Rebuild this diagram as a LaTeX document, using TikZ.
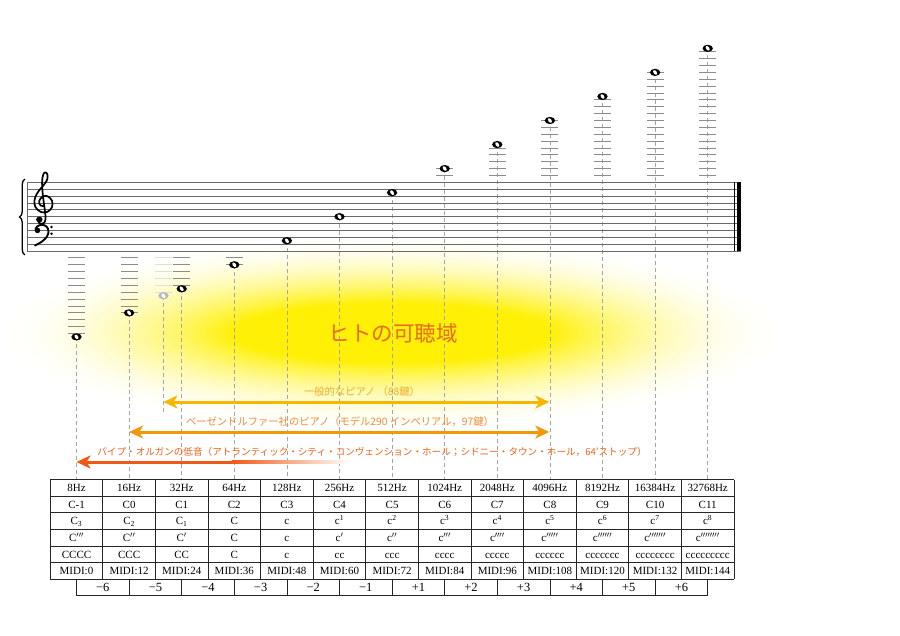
\documentclass[tikz,border=0pt]{standalone}
\usepackage{fontspec}
\setmainfont{Liberation Serif}
\newfontfamily\jpfont{Noto Sans CJK JP}
\usetikzlibrary{arrows.meta,decorations.pathreplacing}
\definecolor{glowY}{RGB}{255,240,0}
\definecolor{titleC}{RGB}{232,108,30}
\definecolor{goldA}{RGB}{247,183,0}
\definecolor{goldT}{RGB}{238,172,45}
\definecolor{orgA}{RGB}{243,150,8}
\definecolor{orgT}{RGB}{238,138,55}
\definecolor{redA}{RGB}{238,90,22}
\definecolor{redT}{RGB}{232,98,30}
\definecolor{staffC}{RGB}{105,105,105}
\definecolor{ledgC}{RGB}{140,140,140}
\definecolor{dashC}{RGB}{165,165,165}
\definecolor{ghostC}{RGB}{185,185,185}
\definecolor{ghostL}{RGB}{222,222,222}
\newcommand\prm{\prime}
\tikzset{
  staffline/.style={draw=staffC, line width=0.75pt},
  ledger/.style={draw=ledgC, line width=0.75pt},
  ghostledger/.style={draw=ghostL, line width=0.75pt},
  guide/.style={draw=dashC, line width=0.6pt, dash pattern=on 4pt off 3pt},
  gridline/.style={draw=black!85, line width=0.7pt},
  celltext/.style={font=\fontsize{11}{12}\selectfont, inner sep=0pt, text height=7.4pt, text depth=0pt, anchor=center},
  offtext/.style={font=\fontsize{12.5}{13}\selectfont, inner sep=0pt, text height=8.4pt, text depth=0pt, anchor=center},
  jplabel/.style={font=\jpfont\fontsize{10.3}{11}\selectfont, inner sep=0pt, anchor=center},
  rangearrow/.style={line width=3pt, arrows={{Stealth[length=14pt,width=13pt,inset=4pt]}-{Stealth[length=14pt,width=13pt,inset=4pt]}}},
  clefline/.style={line width=1.7pt, line cap=round, line join=round},
  wnote/.pic={\fill (0,0) ellipse [x radius=5.2pt, y radius=3.6pt];
              \fill[white, rotate=35] (0,0) ellipse [x radius=1.6pt, y radius=2.6pt];},
}
\begin{document}
\begin{tikzpicture}[x=1pt,y=-1pt]
\useasboundingbox[fill=white] (0,0) rectangle (900,636);
% ---- glow
\foreach \k in {0,...,50}{
  \pgfmathsetmacro\rx{385-225*\k/50}
  \pgfmathsetmacro\ry{95-65*\k/50}
  \pgfmathsetmacro\pc{1+97*(\k/50)^1.8}
  \fill[glowY!\pc!white] (392,333) ellipse [x radius=\rx pt, y radius=\ry pt];
}
% ---- guides
\foreach \i in {0,...,12}{
  \coordinate (n\i) at ({76.5+52.6*\i},{336.9-24.045*\i});
  \coordinate (t\i) at ({76.5+52.6*\i},479.5);
  \draw[guide] (n\i) -- (t\i);
}
\coordinate (g) at (163.5,295.7);
\coordinate (gb) at (163.5,412);
\draw[guide] (g) -- (gb);
% ---- staff
\foreach \k in {0,...,10} \draw[staffline] (27,{182.3+6.87*\k}) -- (741,{182.3+6.87*\k});
\draw[line width=0.9pt, staffC] (27,182.3) -- (27,251);
\draw[line width=0.8pt, black] (734.3,182.3) -- (734.3,251);
\fill[black] (737.2,182.3) rectangle (741,251);
% brace
\coordinate (bb) at (25,255);
\coordinate (bt) at (25,179);
\draw[decorate, decoration={brace, amplitude=5.5pt}, line width=1.3pt] (bb) -- (bt);
% treble clef
\begin{scope}[shift={(43,203.5)}, xscale=1.15, yscale=1.05]
\draw[clefline] plot[smooth, tension=0.6] coordinates {(-4.5,15.5) (-3,18.8) (0.5,18.8) (2.2,15) (1.8,8) (0.8,0) (-0.3,-10) (-0.8,-19) (-0.3,-25.5) (1.3,-29.5) (3.5,-28.5) (4,-24.5) (2.3,-20) (-1.8,-14.5) (-5.5,-9) (-7.5,-2.5) (-6.5,3.5) (-2,8) (3.8,8) (7.8,3.5) (7.8,-2.8) (3.8,-7) (-0.5,-6.5) (-3.4,-2) (-2,2) (1,2.2)};
\fill (-3.2,15.3) circle (2.8pt);
\end{scope}
% bass clef
\fill (37.5,230.4) circle (2.8pt);
\draw[line width=1.9pt, line cap=round] plot[smooth, tension=0.6] coordinates {(35.5,229.2) (37.5,226.2) (42,224.8) (46.5,226.5) (48.5,231) (47,236.5) (42,241.5) (35,245.5)};
\fill (51.5,227) circle (1.3pt);
\fill (51.5,233.8) circle (1.3pt);
% ---- ledger lines
\foreach \i/\n in {0/11,1/8,2/4,3/1}{
  \foreach \m in {0,...,\n}
    \draw[ledger] ({76.5+52.6*\i-8.5},{257.87+6.87*\m}) -- ++(17,0);
}
\foreach \i/\n in {7/1,8/4,9/8,10/11,11/15,12/18}{
  \foreach \m in {0,...,\n}
    \draw[ledger] ({76.5+52.6*\i-8.5},{175.43-6.87*\m}) -- ++(17,0);
}
\foreach \m in {0,...,5} \draw[ghostledger] (155,{257.87+6.87*\m}) -- ++(17,0);
% ---- notes
\foreach \i in {0,...,12} \pic at (n\i) {wnote};
\pic[fill=ghostC] at (g) {wnote};
% ---- title
\node[font=\jpfont\fontsize{21.5}{24}\selectfont, text=titleC, inner sep=0pt] (title) at (393,333) {ヒトの可聴域};
% ---- range arrows
\coordinate (a1l) at (163.5,402); \coordinate (a1r) at (549.3,402);
\draw[rangearrow, goldA] (a1l) -- (a1r);
\node[jplabel, text=goldT] (l1) at (362,391.5) {一般的なピアノ （88鍵）};
\coordinate (a2l) at (129.1,432); \coordinate (a2r) at (549.3,432);
\draw[rangearrow, orgA] (a2l) -- (a2r);
\node[jplabel, text=orgT] (l2) at (340,421.5) {ベーゼンドルファー社のピアノ（モデル290 インペリアル，97鍵）};
\coordinate (a3l) at (76.5,462); \coordinate (a3m) at (232,462);
\draw[line width=3pt, redA, arrows={{Stealth[length=14pt,width=13pt,inset=4pt]}-}] (a3l) -- (a3m);
\shade[left color=redA, right color=white] (231.5,460.5) rectangle (350,463.5);
\node[jplabel, font=\jpfont\fontsize{9.6}{11}\selectfont, text=redT] (l3) at (372,452) {パイプ・オルガンの低音（アトランティック・シティ・コンヴェンション・ホール；シドニー・タウン・ホール，64’ストップ）};
% ---- table
\foreach \r in {0,...,6} \draw[gridline] (50.2,{479.5+16.63*\r}) -- (734,{479.5+16.63*\r});
\foreach \j in {0,...,13} \draw[gridline] ({50.2+52.6*\j},479.5) -- ({50.2+52.6*\j},579.3);
\draw[gridline] (76.5,579.3) rectangle (707.7,595.5);
\foreach \k in {1,...,11} \draw[gridline] ({76.5+52.6*\k},579.3) -- ++(0,16.2);
\foreach \t [count=\i from 0] in {8Hz,16Hz,32Hz,64Hz,128Hz,256Hz,512Hz,1024Hz,2048Hz,4096Hz,8192Hz,16384Hz,32768Hz}
  \node[celltext] (fa\i) at ({76.5+52.6*\i},487.8) {\t};
\foreach \t [count=\i from 0] in {C-1,C0,C1,C2,C3,C4,C5,C6,C7,C8,C9,C10,C11}
  \node[celltext] (fb\i) at ({76.5+52.6*\i},504.4) {\t};
\foreach \t [count=\i from 0] in {{C\textsubscript{3}},{C\textsubscript{2}},{C\textsubscript{1}},C,c,{c\textsuperscript{1}},{c\textsuperscript{2}},{c\textsuperscript{3}},{c\textsuperscript{4}},{c\textsuperscript{5}},{c\textsuperscript{6}},{c\textsuperscript{7}},{c\textsuperscript{8}}}
  \node[celltext] (fc\i) at ({76.5+52.6*\i},521.1) {\t};
\foreach \t [count=\i from 0] in {{C$^{\prm\prm\prm}$},{C$^{\prm\prm}$},{C$^{\prm}$},C,c,{c$^{\prm}$},{c$^{\prm\prm}$},{c$^{\prm\prm\prm}$},{c$^{\prm\prm\prm\prm}$},{c$^{\prm\prm\prm\prm\prm}$},{c$^{\prm\prm\prm\prm\prm\prm}$},{c$^{\prm\prm\prm\prm\prm\prm\prm}$},{c$^{\prm\prm\prm\prm\prm\prm\prm\prm}$}}
  \node[celltext] (fd\i) at ({76.5+52.6*\i},537.7) {\t};
\foreach \t [count=\i from 0] in {CCCC,CCC,CC,C,c,cc,ccc,cccc,ccccc,cccccc,ccccccc,cccccccc,ccccccccc}
  \node[celltext] (fe\i) at ({76.5+52.6*\i},554.3) {\t};
\foreach \t [count=\i from 0] in {0,12,24,36,48,60,72,84,96,108,120,132,144}
  \node[celltext] (ff\i) at ({76.5+52.6*\i},571.0) {MIDI:\t};
\foreach \t [count=\i from 0] in {−6,−5,−4,−3,−2,−1,+1,+2,+3,+4,+5,+6}
  \node[offtext] (fo\i) at ({102.8+52.6*\i},587.4) {\t};
\end{tikzpicture}
\end{document}
